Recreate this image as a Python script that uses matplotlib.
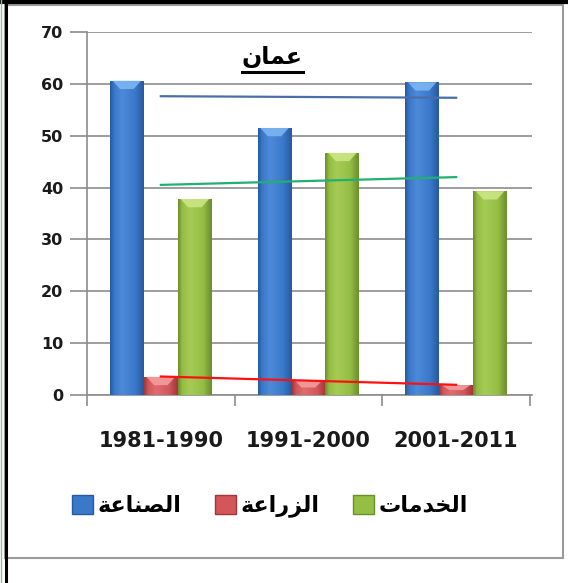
import numpy as np
import matplotlib
matplotlib.use("Agg")
import matplotlib.pyplot as plt
from matplotlib.patches import Rectangle, Polygon, Patch
from matplotlib.lines import Line2D
from matplotlib.colors import LinearSegmentedColormap

plt.rcParams['font.family'] = ['DejaVu Sans']

# ---- data ----
categories = ["1981-1990", "1991-2000", "2001-2011"]
# Arabic text in presentation forms (visual order)
title_text = "\uFEE5\uFE8E\uFEE4\uFECB"                      # عمان
series_names = ["\uFE94\uFECB\uFE8E\uFEE8\uFEBC\uFEDF\uFE8D",  # الصناعة
                "\uFE94\uFECB\uFE8D\uFEAD\uFEB0\uFEDF\uFE8D",  # الزراعة
                "\uFE95\uFE8E\uFEE3\uFEAA\uFEA8\uFEDF\uFE8D"]  # الخدمات
industry = [60.6, 51.5, 60.3]
agriculture = [3.5, 2.9, 1.9]
services = [37.8, 46.7, 39.3]
y_ticks = [0, 10, 20, 30, 40, 50, 60, 70]

series = [industry, agriculture, services]
base_cols = ["#3A78CA", "#D2565A", "#95BE44"]
edge_cols = ["#275A9E", "#A23638", "#6A8E2C"]
light_cols = ["#4D8AD8", "#E06C6E", "#A6CB55"]
top_cols = ["#80B8F4", "#F4A0A0", "#CDE888"]
trend_cols = ["#4A6FA8", "#FF1010", "#22B070"]
trend_ranges = [(0.0, 2.0), (0.0, 2.0), (0.0, 2.0)]

W, H = 568, 583
fig = plt.figure(figsize=(W / 100, H / 100), dpi=100)
fig.patch.set_facecolor("white")

ax = fig.add_axes([87 / W, (H - 395) / H, (532 - 87) / W, (395 - 32) / H])
ax.set_xlim(-0.5, 2.5 + 2 / 147.67)
ax.set_ylim(0, 70)

x = np.arange(len(categories))
bw = 0.23
offsets = [-bw, 0, bw]

for si, vals in enumerate(series):
    bars = ax.bar(x + offsets[si], vals, width=bw, color=base_cols[si],
                  edgecolor="none", zorder=3, label=series_names[si])
    cmap = LinearSegmentedColormap.from_list(
        "g%d" % si, [(0, edge_cols[si]), (0.12, base_cols[si]), (0.35, light_cols[si]),
                     (0.75, base_cols[si]), (1, edge_cols[si])])
    grad = np.linspace(0, 1, 64).reshape(1, -1)
    for p in bars:
        x0, y0 = p.get_x(), p.get_y()
        w, h = p.get_width(), p.get_height()
        im = ax.imshow(grad, cmap=cmap, aspect="auto", extent=(x0, x0 + w, y0, y0 + h),
                       zorder=3.1, interpolation="bicubic")
        im.set_clip_path(p)
        d = min(1.6, h * 0.5)
        top = y0 + h
        poly = Polygon([(x0 + w * 0.08, top), (x0 + w * 0.92, top),
                        (x0 + w * 0.70, top - d), (x0 + w * 0.30, top - d)],
                       closed=True, facecolor=top_cols[si], edgecolor="none",
                       alpha=0.85, zorder=3.2)
        ax.add_patch(poly)

# trend lines (linear fits of each series)
for si, vals in enumerate(series):
    k, b = np.polyfit(x, vals, 1)
    xs = np.array(trend_ranges[si])
    ax.plot(xs, k * xs + b, color=trend_cols[si], lw=1.6, zorder=4)

ax.set_yticks(y_ticks)
ax.set_yticklabels([str(t) for t in y_ticks], fontsize=11.5, fontweight="bold",
                   color="#1a1a1a")
ax.yaxis.grid(True, color="#8c8c8c", lw=1.2, zorder=0)
ax.set_axisbelow(True)

ax.set_xticks(x)
ax.set_xticklabels(categories, fontsize=15, fontweight="bold", color="#1a1a1a")
ax.set_xticks([-0.5, 0.5, 1.5, 2.5], minor=True)
ax.tick_params(axis="x", which="major", length=0, pad=26)
ax.tick_params(axis="x", which="minor", length=8, width=1.2, color="#8c8c8c", direction="out")
ax.tick_params(axis="y", length=12, width=1.2, color="#8c8c8c", pad=5)

for s in ["top", "right"]:
    ax.spines[s].set_visible(False)
for s in ["left", "bottom"]:
    ax.spines[s].set_color("#8c8c8c")
    ax.spines[s].set_linewidth(1.2)

# title with underline
t = fig.text(272 / W, (H - 57) / H, title_text, ha="center", va="center",
             fontsize=17, fontweight="bold", color="black")
fig.canvas.draw()
bb = t.get_window_extent(fig.canvas.get_renderer())
fig.add_artist(Line2D([bb.x0 / W, bb.x1 / W], [(bb.y0 - 3) / H, (bb.y0 - 3) / H],
                      color="black", lw=2.2, transform=fig.transFigure))

# legend
handles = [Patch(facecolor=base_cols[i], edgecolor=edge_cols[i], label=series_names[i])
           for i in range(3)]
leg = fig.legend(handles=handles, loc="center", bbox_to_anchor=(270 / W, (H - 506) / H),
                 ncol=3, frameon=False, prop={"size": 16, "weight": "bold"},
                 handlelength=0.95, handleheight=0.95, handletextpad=0.2,
                 columnspacing=1.5)

# frames
fig.add_artist(Rectangle((5 / W, (H - 558) / H), (563 - 5) / W, (558 - 5) / H,
                         transform=fig.transFigure, fill=False, edgecolor="#9a9a9a",
                         lw=1.5))
fig.add_artist(Line2D([0, 1], [(H - 1.5) / H, (H - 1.5) / H], color="black", lw=3,
                      transform=fig.transFigure))
fig.add_artist(Line2D([5.5 / W, 5.5 / W], [0, 1], color="black", lw=2.2,
                      transform=fig.transFigure))
fig.add_artist(Line2D([1 / W, 1 / W], [0, 1], color="#9ab89a", lw=1,
                      transform=fig.transFigure))

fig.savefig("out.png", dpi=100)
